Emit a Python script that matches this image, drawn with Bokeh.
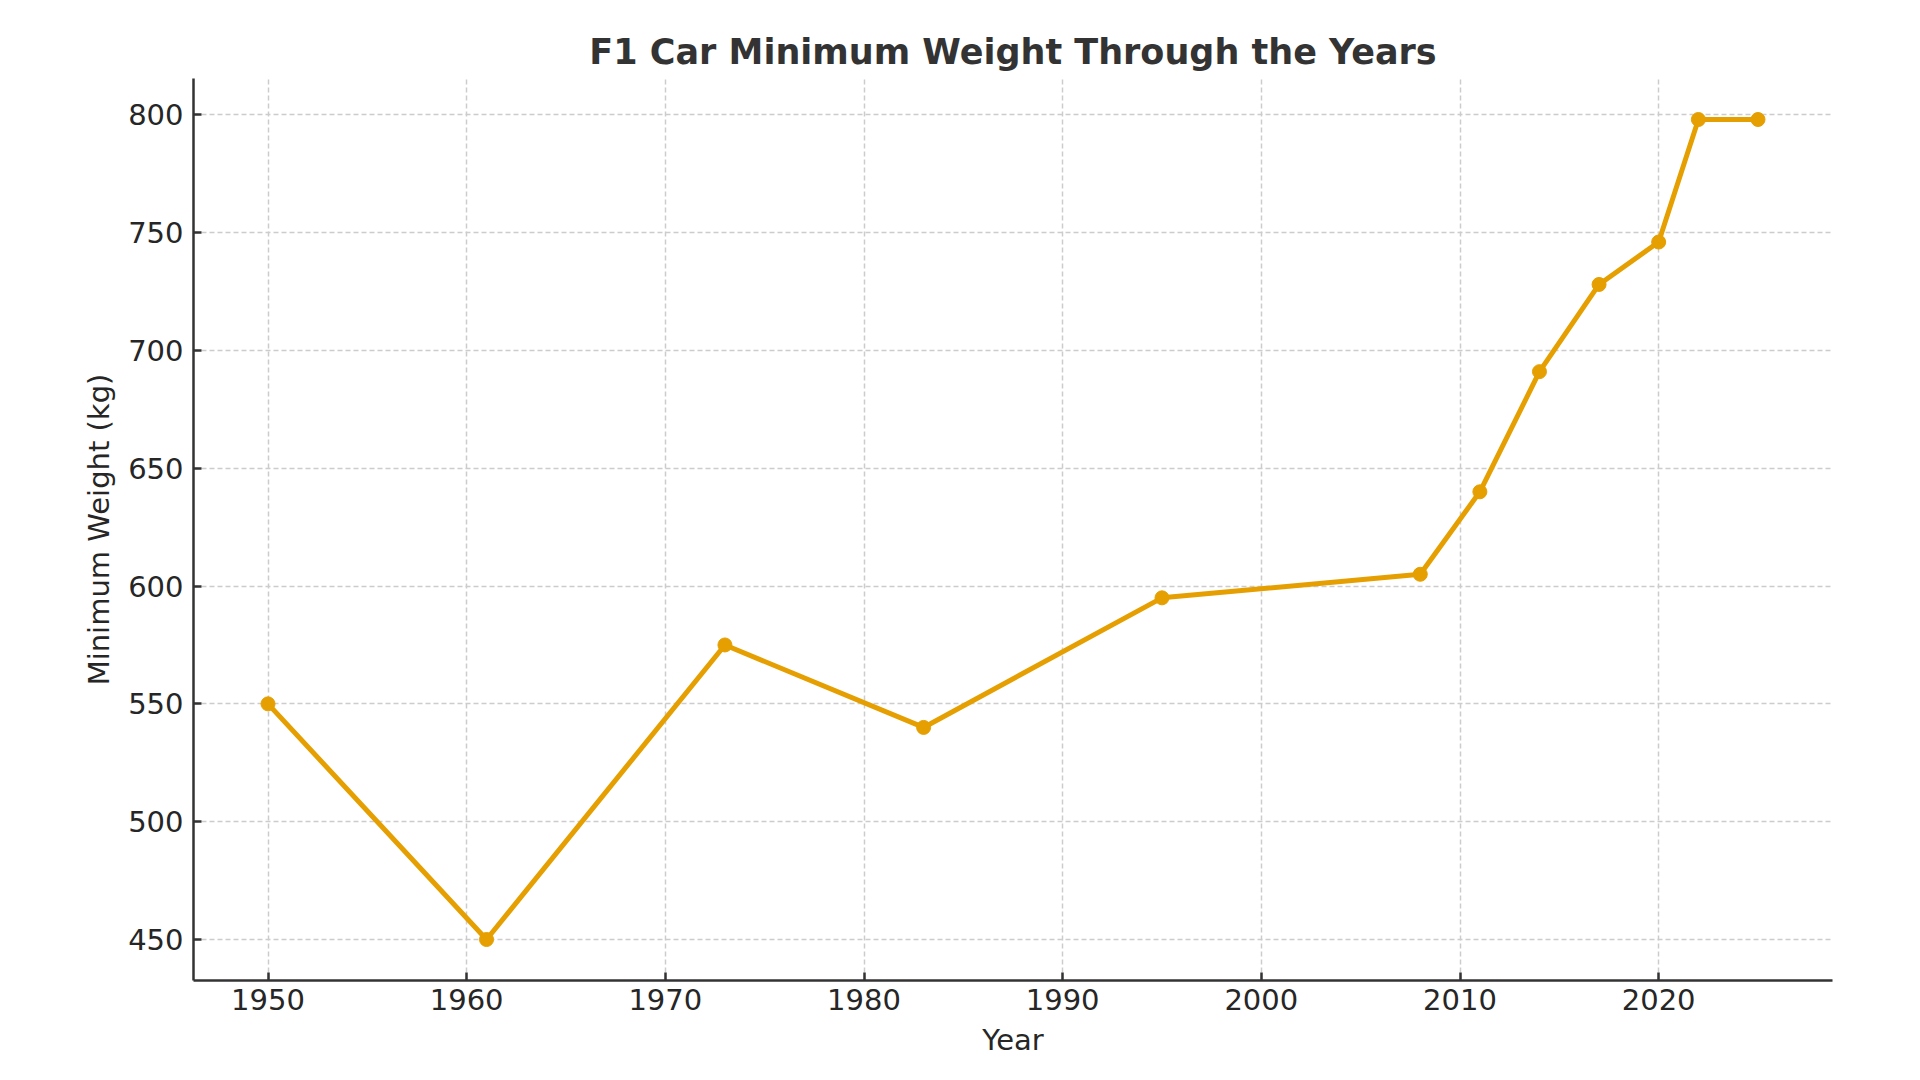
from bokeh.plotting import figure
from bokeh.models import FixedTicker, Range1d
from bokeh.embed import file_html
from bokeh.resources import INLINE

years = [1950, 1961, 1973, 1983, 1995, 2008, 2011, 2014, 2017, 2020, 2022, 2025]
weights = [550, 450, 575, 540, 595, 605, 640, 691, 728, 746, 798, 798]
x_ticks = [1950, 1960, 1970, 1980, 1990, 2000, 2010, 2020]
y_ticks = [450, 500, 550, 600, 650, 700, 750, 800]

FONT = "DejaVu Sans"
ORANGE = "#E69F00"

W, H = 1900, 1060
p = figure(width=W, height=H, output_backend="svg", toolbar_location=None,
           x_range=Range1d(1946.25, 2028.75), y_range=Range1d(432.6, 815.4),
           min_border_left=193, min_border_right=68, min_border_top=78,
           min_border_bottom=80, title="F1 Car Minimum Weight Through the Years")
p.outline_line_color = None
p.background_fill_color = "white"
p.border_fill_color = "white"

p.title.text_font = FONT
p.title.text_font_size = "35px"
p.title.text_font_style = "bold"
p.title.text_color = "#333333"
p.title.align = "center"
p.title.standoff = 14

for ax in (p.xaxis[0], p.yaxis[0]):
    ax.axis_line_width = 2.5
    ax.axis_line_color = "#333333"
    ax.major_tick_line_color = "#333333"
    ax.major_tick_line_width = 2.5
    ax.major_tick_in = 8
    ax.major_tick_out = 0
    ax.minor_tick_line_color = None
    ax.major_label_text_font = FONT
    ax.major_label_text_font_size = "29px"
    ax.major_label_text_color = "#262626"
    ax.axis_label_text_font = FONT
    ax.axis_label_text_font_size = "29px"
    ax.axis_label_text_font_style = "normal"
    ax.axis_label_text_color = "#262626"

p.xaxis[0].ticker = FixedTicker(ticks=x_ticks)
p.yaxis[0].ticker = FixedTicker(ticks=y_ticks)
p.xaxis[0].axis_label = "Year"
p.yaxis[0].axis_label = "Minimum Weight (kg)"
p.xaxis[0].major_label_standoff = 8
p.yaxis[0].major_label_standoff = 10
p.xaxis[0].axis_label_standoff = 10
p.yaxis[0].axis_label_standoff = 9

for g in (p.xgrid[0], p.ygrid[0]):
    g.grid_line_color = "#cccccc"
    g.grid_line_width = 1.5
    g.grid_line_dash = "5 3"
p.xgrid[0].ticker = FixedTicker(ticks=x_ticks)
p.ygrid[0].ticker = FixedTicker(ticks=y_ticks)

p.line(years, weights, line_color=ORANGE, line_width=5)
p.scatter(years, weights, size=14, fill_color=ORANGE, line_color=ORANGE)

open("out.html", "w").write(file_html(p, INLINE))
